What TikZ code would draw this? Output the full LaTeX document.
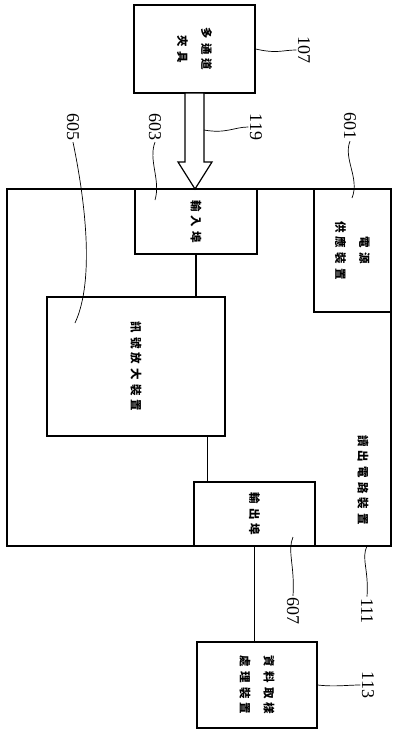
\documentclass[tikz,border=0pt]{standalone}
\usepackage{fontspec}
\setmainfont{Liberation Serif}
\newfontfamily\cjk[LetterSpace=36]{Noto Sans CJK TC}
\begin{document}
\begin{tikzpicture}[x=1pt, y=-1pt, line width=1.2pt,
    box/.style={draw, rectangle, inner sep=0pt, fill=white},
    vtext/.style={rotate=-90, align=center, inner sep=0pt, font=\cjk\bfseries\fontsize{11.5}{24}\selectfont},
    refnum/.style={rotate=-90, inner sep=1pt, font=\fontsize{18}{20}\selectfont},
    lead/.style={line width=0.7pt}]
        \useasboundingbox (0,0) rectangle (394,736);

        % --- BOXES ---
        \node[box, minimum width=384, minimum height=357] (readout) at (199,367.5) {};
        \node[box, minimum width=121, minimum height=88] (fixture) at (194.5,49) {};
        \node[box, minimum width=77, minimum height=123] (power) at (352.5,250.5) {};
        \node[box, minimum width=122, minimum height=65] (inport) at (196,221.5) {};
        \node[box, minimum width=178, minimum height=139] (amp) at (136,366.5) {};
        \node[box, minimum width=121, minimum height=64] (outport) at (254.5,514) {};
        \node[box, minimum width=120, minimum height=86] (daq) at (257,685) {};

        % --- TEXTS (rotated, first line on the right) ---
        \node[vtext] (fixture-t) at (fixture) {多通道\\夾具};
        \node[vtext] (power-t) at (power) {電源\\供應裝置};
        \node[vtext] (inport-t) at (inport) {輸入埠};
        \node[vtext] (amp-t) at (amp) {訊號放大裝置};
        \node[vtext] (readout-t) at (363,480) {讀出電路裝置};
        \node[vtext] (outport-t) at (outport) {輸出埠};
        \node[vtext] (daq-t) at (daq) {資料取樣\\處理裝置};

        % --- CONNECTORS ---
        \draw (inport.south) -- (inport.south |- amp.north);
        \coordinate (link) at ([xshift=14pt]outport.north west);
        \draw (link) -- (link |- amp.south);
        \draw (outport.south) -- (outport.south |- daq.north);

        % Hollow arrow 119
        \draw[fill=white] (185,93) -- (185,162) -- (178,162) -- (195,189)
            -- (212,162) -- (204,162) -- (204,93) -- cycle;
        \coordinate (shaft) at (204,130);

        % --- REFERENCE NUMBERS ---
        % rotate=-90: south = left end, west = top end, east = bottom end
        \node[refnum] (n107) at (304,50) {107};
        \node[refnum] (n119) at (256,127) {119};
        \node[refnum] (n601) at (350,126) {601};
        \node[refnum] (n603) at (155,127) {603};
        \node[refnum] (n605) at (73,127) {605};
        \node[refnum] (n607) at (293,611) {607};
        \node[refnum] (n111) at (367,611) {111};
        \node[refnum] (n113) at (368,685) {113};

        \coordinate (c601) at (352,198);
        \coordinate (c603) at (155,200);
        \coordinate (c605) at (75,323);
        \coordinate (c607) at (293,537);
        \coordinate (c111) at (367,546);

        % Leader lines
        \draw[lead] (fixture.east) .. controls +(22,5) and +(-14,0) .. (n107.south);
        \draw[lead] (shaft) .. controls +(22,4) and +(-14,0) .. (n119.south);
        \draw[lead] (n601.east) .. controls +(-7,18) and +(8,-20) .. (c601);
        \draw[lead] (n603.east) .. controls +(-7,18) and +(6,-20) .. (c603);
        \draw[lead] (n605.east) .. controls (85,200) and (95,280) .. (c605);
        \draw[lead] (n607.west) .. controls +(2,-30) and +(-6,14) .. (c607);
        \draw[lead] (n111.west) .. controls +(2,-26) and +(-6,12) .. (c111);
        \draw[lead] (daq.east) .. controls +(18,2) and +(-14,0) .. (n113.south);

    \end{tikzpicture}
\end{document}
